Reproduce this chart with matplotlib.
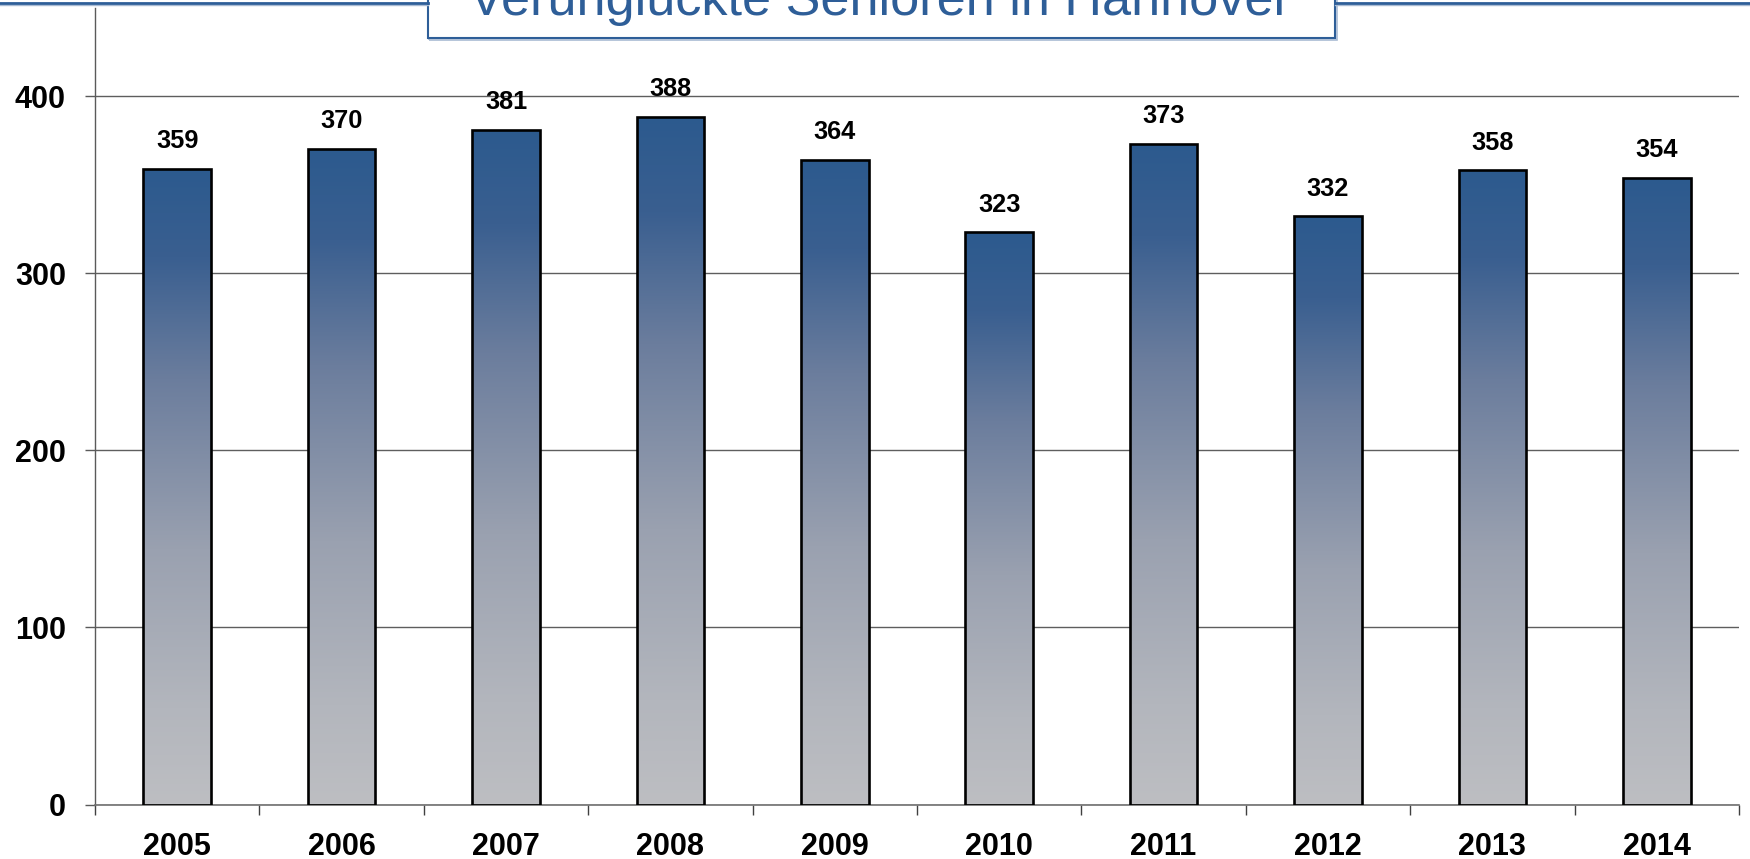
import numpy as np
import matplotlib
matplotlib.use('Agg')
import matplotlib.pyplot as plt
from matplotlib.colors import LinearSegmentedColormap
from matplotlib.patches import Rectangle
from matplotlib.lines import Line2D

#- data
years = ['2005', '2006', '2007', '2008', '2009', '2010', '2011', '2012', '2013', '2014']
values = [359, 370, 381, 388, 364, 323, 373, 332, 358, 354]
title = 'Verunglückte Senioren in Hannover'

plt.rcParams['font.family'] = ['Liberation Sans', 'DejaVu Sans']
blue = '#2e5e98'
cmap = LinearSegmentedColormap.from_list('bars', [
    (0.0, '#bdbec2'), (0.15, '#b3b6bd'), (0.4, '#9aa1b0'),
    (0.67, '#6b7d9d'), (0.86, '#3a5f90'), (1.0, '#2c5a8e')])

fig = plt.figure(figsize=(17.5, 8.59), dpi=100)
ax = fig.add_axes([95/1750, 54.5/859, 1644/1750, 797/859])

x = np.arange(len(years))
bars = ax.bar(x, values, width=0.41, facecolor='none', edgecolor='black',
              linewidth=1.9, zorder=3)
grad = np.linspace(0, 1, 256).reshape(-1, 1)
for b in bars:
    x0 = b.get_x(); h = b.get_height()
    im = ax.imshow(grad, extent=[x0, x0 + b.get_width(), 0, h], origin='lower',
                   cmap=cmap, aspect='auto', zorder=2)
    im.set_clip_path(b)

for xi, v in zip(x, values):
    ax.annotate(str(v), (xi, v), xytext=(0, 15), textcoords='offset points',
                ha='center', va='baseline', fontsize=18.3, fontweight='bold')

ax.set_xlim(-0.5, len(years) - 0.5)
ax.set_ylim(0, 450)
ax.set_yticks([0, 100, 200, 300, 400])
ax.set_xticks(x)
ax.set_xticklabels(years)
ax.set_xticks(np.arange(-0.5, len(years)), minor=True)
ax.tick_params(axis='x', which='major', length=0, pad=19.5, labelsize=22)
ax.tick_params(axis='x', which='minor', length=7, width=1, color='#404040', direction='out')
ax.tick_params(axis='y', length=7.5, width=1, color='#5a5a5a', pad=13.5, labelsize=22)
for lab in ax.get_xticklabels() + ax.get_yticklabels():
    lab.set_fontweight('bold')
ax.grid(axis='y', color='#5e5e5e', linewidth=1)
ax.set_axisbelow(True)
for s in ['top', 'right']:
    ax.spines[s].set_visible(False)
ax.spines['left'].set_color('#5a5a5a')
ax.spines['bottom'].set_color('#707070')
ax.spines['left'].set_linewidth(1)
ax.spines['bottom'].set_linewidth(1.2)

# title box cut off at the top edge
bx0, bx1 = 427.7/1750, 1335/1750
by0 = 1 - 37.7/859
fig.add_artist(Rectangle((bx0 + 0.001, by0 - 0.003), bx1 - bx0, 0.1, transform=fig.transFigure,
                         facecolor='none', edgecolor='#a9bbd3', linewidth=1.2, clip_on=False))
fig.add_artist(Rectangle((bx0, by0), bx1 - bx0, 0.1, transform=fig.transFigure,
                         facecolor='white', edgecolor=blue, linewidth=1.5, clip_on=False))
ytop = 1 - 2.5/859
for xa, xb in [(0, bx0), (bx1, 1)]:
    fig.add_artist(Line2D([xa, xb], [ytop - 2.5/859] * 2, color='#a9bbd3', linewidth=1))
    fig.add_artist(Line2D([xa, xb], [ytop] * 2, color=blue, linewidth=2))
fig.text(880/1750, 1 - 15/859, title, ha='center', va='baseline', fontsize=37.6, color=blue)

plt.savefig('out.png', dpi=100)
